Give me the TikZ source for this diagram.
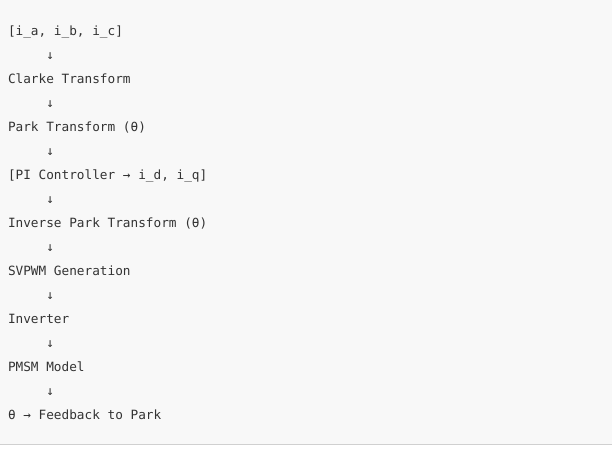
\documentclass[tikz,border=0pt]{standalone}
\usepackage{fontspec}
\setmonofont{DejaVu Sans Mono}
\definecolor{bgc}{HTML}{F8F8F8}
\definecolor{rulec}{HTML}{D0D0D0}
\definecolor{txt}{HTML}{333333}
\begin{document}
\begin{tikzpicture}[x=0.75pt,y=-0.75pt,
  codeline/.style={anchor=base west,inner sep=0pt,outer sep=0pt,text=txt,
    font=\ttfamily\fontsize{9.55pt}{11pt}\selectfont}]
\useasboundingbox (0,0) rectangle (612,451);
\fill[white] (0,0) rectangle (612,451);
\fill[bgc] (0,0) rectangle (612,444);
\draw[rulec,line width=0.75pt] (0,444.5) -- (612,444.5);
\node[codeline] (l1) at (8,35.5) {[i\_a, i\_b, i\_c]};
\node[codeline] (a1) at (8,59.5) {\ \ \ \ \ ↓};
\node[codeline] (l2) at (8,83.5) {Clarke Transform};
\node[codeline] (a2) at (8,107.5) {\ \ \ \ \ ↓};
\node[codeline] (l3) at (8,131.5) {Park Transform (θ)};
\node[codeline] (a3) at (8,155.5) {\ \ \ \ \ ↓};
\node[codeline] (l4) at (8,179.5) {[PI Controller → i\_d, i\_q]};
\node[codeline] (a4) at (8,203.5) {\ \ \ \ \ ↓};
\node[codeline] (l5) at (8,227.5) {Inverse Park Transform (θ)};
\node[codeline] (a5) at (8,251.5) {\ \ \ \ \ ↓};
\node[codeline] (l6) at (8,275.5) {SVPWM Generation};
\node[codeline] (a6) at (8,299.5) {\ \ \ \ \ ↓};
\node[codeline] (l7) at (8,323.5) {Inverter};
\node[codeline] (a7) at (8,347.5) {\ \ \ \ \ ↓};
\node[codeline] (l8) at (8,371.5) {PMSM Model};
\node[codeline] (a8) at (8,395.5) {\ \ \ \ \ ↓};
\node[codeline] (l9) at (8,419.5) {θ → Feedback to Park};
\end{tikzpicture}
\end{document}
